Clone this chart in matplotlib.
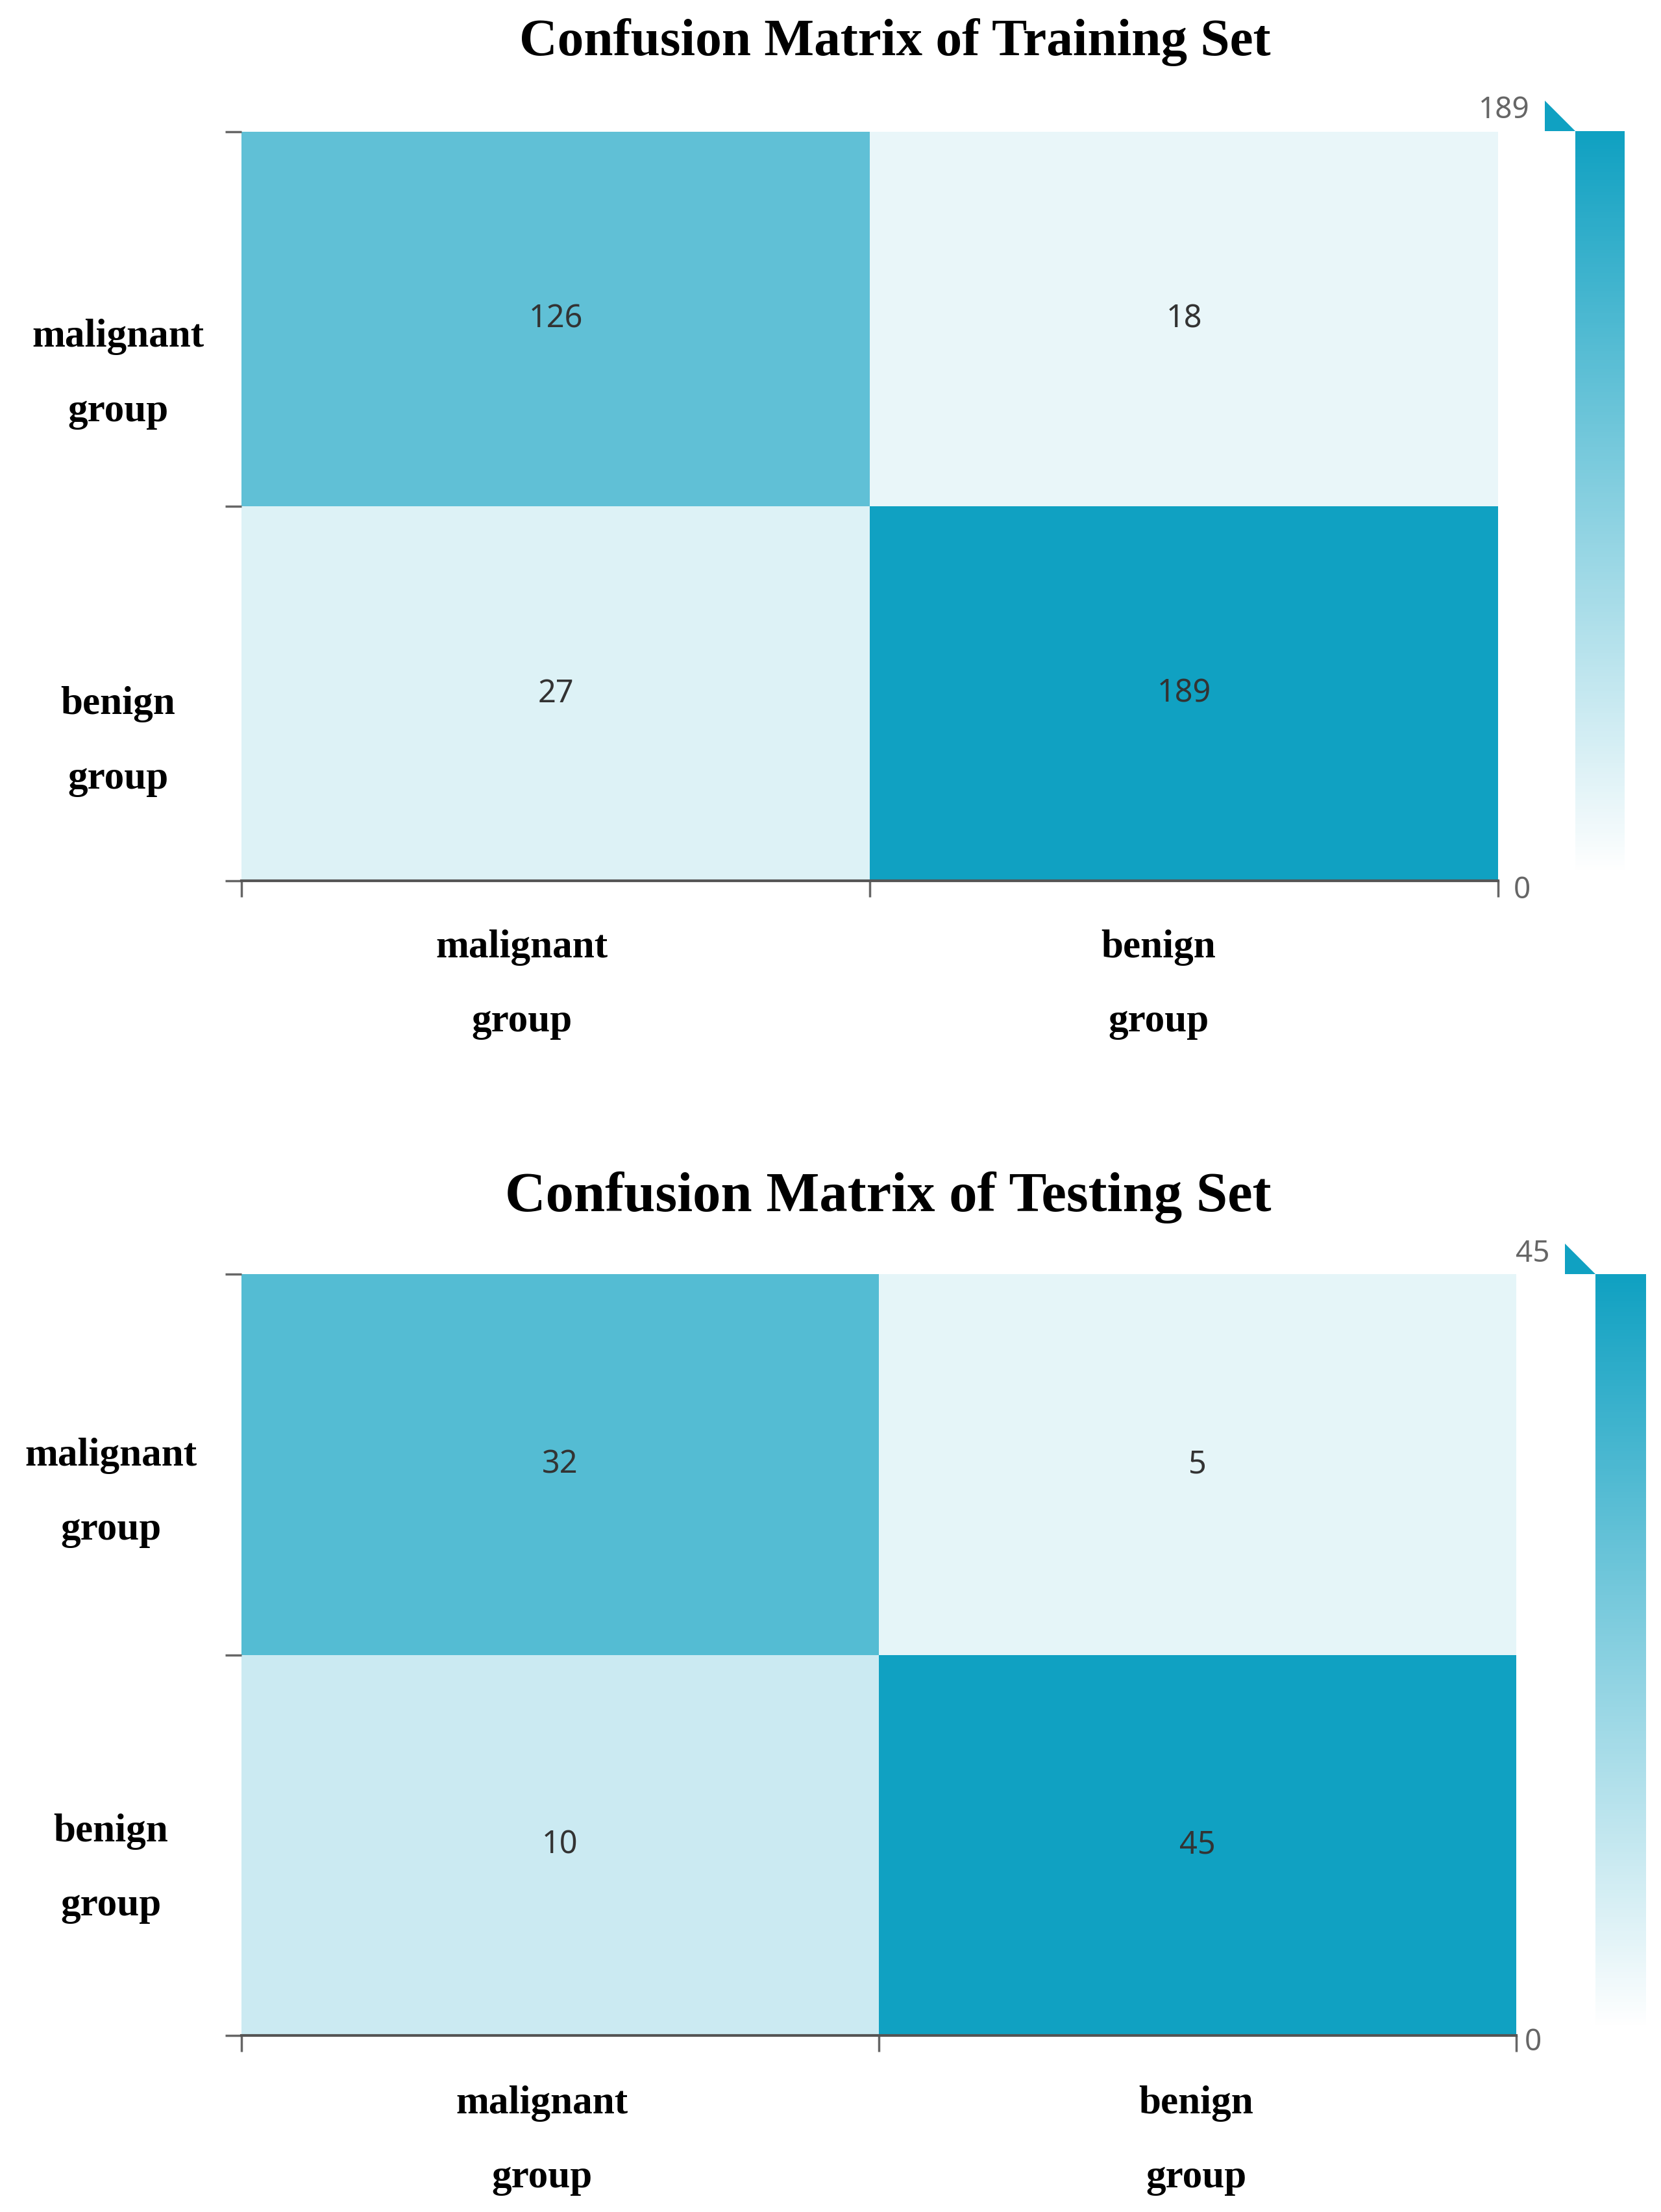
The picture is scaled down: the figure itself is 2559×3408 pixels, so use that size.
import numpy as np
import matplotlib
matplotlib.use('Agg')
import matplotlib.pyplot as plt
from matplotlib.colors import LinearSegmentedColormap, Normalize
from matplotlib import transforms
from matplotlib.patches import Polygon

# ---------------- data ----------------
row_labels = ["malignant\ngroup", "benign\ngroup"]
col_labels = ["malignant\ngroup", "benign\ngroup"]
train_values = [[126, 18], [27, 189]]
test_values = [[32, 5], [10, 45]]
train_title = "Confusion Matrix of Training Set"
test_title = "Confusion Matrix of Testing Set"
train_range = [0, 189]
test_range = [0, 45]

W, H = 2559, 3408
DPI = 100
fig = plt.figure(figsize=(W / DPI, H / DPI), dpi=DPI)
fig.patch.set_facecolor('white')
cmap = LinearSegmentedColormap.from_list('cm', ['#ffffff', '#10a1c2'])

SERIF = 'Liberation Serif'
SANS = 'Noto Sans'


def px_axes(l, t, r, b):
    return fig.add_axes([l / W, 1 - b / H, (r - l) / W, (b - t) / H])


def off(trans, dx, dy):
    # dx, dy in pixels; dy positive = downward
    return transforms.offset_copy(trans, fig=fig, x=dx, y=-dy, units='dots')


def panel(values, title, vrange, box, cbox, title_xy, title_size,
          ylab_x, ylab_shift, xlab_dx, xlab_dy, zero_xy, max_xy):
    l, t, r, b = box
    ax = px_axes(l, t, r, b)
    vals = np.array(values)
    norm = Normalize(vrange[0], vrange[1])
    n = vals.shape[0]
    ax.pcolormesh(np.arange(n + 1), np.arange(n + 1), vals, cmap=cmap, norm=norm)
    ax.set_xlim(0, n)
    ax.set_ylim(n, 0)
    for s in ['top', 'right', 'left']:
        ax.spines[s].set_visible(False)
    ax.spines['bottom'].set_color('#555555')
    ax.spines['bottom'].set_linewidth(3)
    ax.set_xticks(np.arange(n + 1))
    ax.set_yticks(np.arange(n + 1))
    ax.set_xticklabels([])
    ax.set_yticklabels([])
    ax.tick_params(axis='both', length=18, width=2.5, color='#666666')

    for i in range(n):
        for j in range(n):
            ax.text(j + 0.5, i + 0.5, str(vals[i, j]), ha='center', va='center',
                    fontsize=35, color='#333333', family=SANS)

    # y labels
    ytrans = transforms.blended_transform_factory(ax.transAxes, ax.transData)
    xfrac = (ylab_x - l) / (r - l)
    for i, lab in enumerate(row_labels):
        ax.text(xfrac, i + 0.5, lab, transform=off(ytrans, 0, ylab_shift[i]),
                ha='center', va='center', multialignment='center',
                linespacing=2.35, fontsize=44, fontweight='bold', family=SERIF,
                color='black')
    # x labels
    xtrans = transforms.blended_transform_factory(ax.transData, ax.transAxes)
    for j, lab in enumerate(col_labels):
        ax.text(j + 0.5, 0, lab, transform=off(xtrans, xlab_dx[j], xlab_dy),
                ha='center', va='center', multialignment='center',
                linespacing=2.35, fontsize=44, fontweight='bold', family=SERIF,
                color='black')

    # title
    fig.text(title_xy[0] / W, 1 - title_xy[1] / H, title, ha='center', va='center',
             fontsize=title_size, fontweight='bold', family=SERIF, color='black')

    # colour bar (visual map)
    cl, ct, cr, cb = cbox
    cax = px_axes(cl, ct, cr, cb)
    grad = np.linspace(vrange[0], vrange[1], 256).reshape(-1, 1)
    cax.imshow(grad, cmap=cmap, norm=norm, aspect='auto', origin='lower',
               extent=[0, 1, vrange[0], vrange[1]])
    cax.axis('off')
    tw = 47 / (cr - cl)
    th = 47 / (cb - ct)
    tri = Polygon([[0, 1], [-tw, 1], [-tw, 1 + th]], closed=True,
                  transform=cax.transAxes, clip_on=False,
                  facecolor='#10a1c2', edgecolor='none')
    cax.add_patch(tri)
    fig.text(max_xy[0] / W, 1 - max_xy[1] / H, str(vrange[1]), ha='right', va='center',
             fontsize=33, color='#666666', family=SANS)
    fig.text(zero_xy[0] / W, 1 - zero_xy[1] / H, str(vrange[0]), ha='center', va='center',
             fontsize=33, color='#666666', family=SANS)
    return ax


panel(train_values, train_title, train_range,
      box=(372, 203, 2308, 1357), cbox=(2427, 202, 2503, 1345),
      title_xy=(1379, 65), title_size=58.5,
      ylab_x=182, ylab_shift=(85, 74), xlab_dx=(-52, -39), xlab_dy=160,
      zero_xy=(2345, 1372), max_xy=(2357, 170))

panel(test_values, test_title, test_range,
      box=(372, 1963, 2336, 3136), cbox=(2458, 1963, 2536, 3125),
      title_xy=(1368, 1845), title_size=62.5,
      ylab_x=171, ylab_shift=(44, 36), xlab_dx=(-28, -2), xlab_dy=162,
      zero_xy=(2362, 3147), max_xy=(2387, 1932))

fig.savefig('out.png', dpi=DPI, facecolor='white')
